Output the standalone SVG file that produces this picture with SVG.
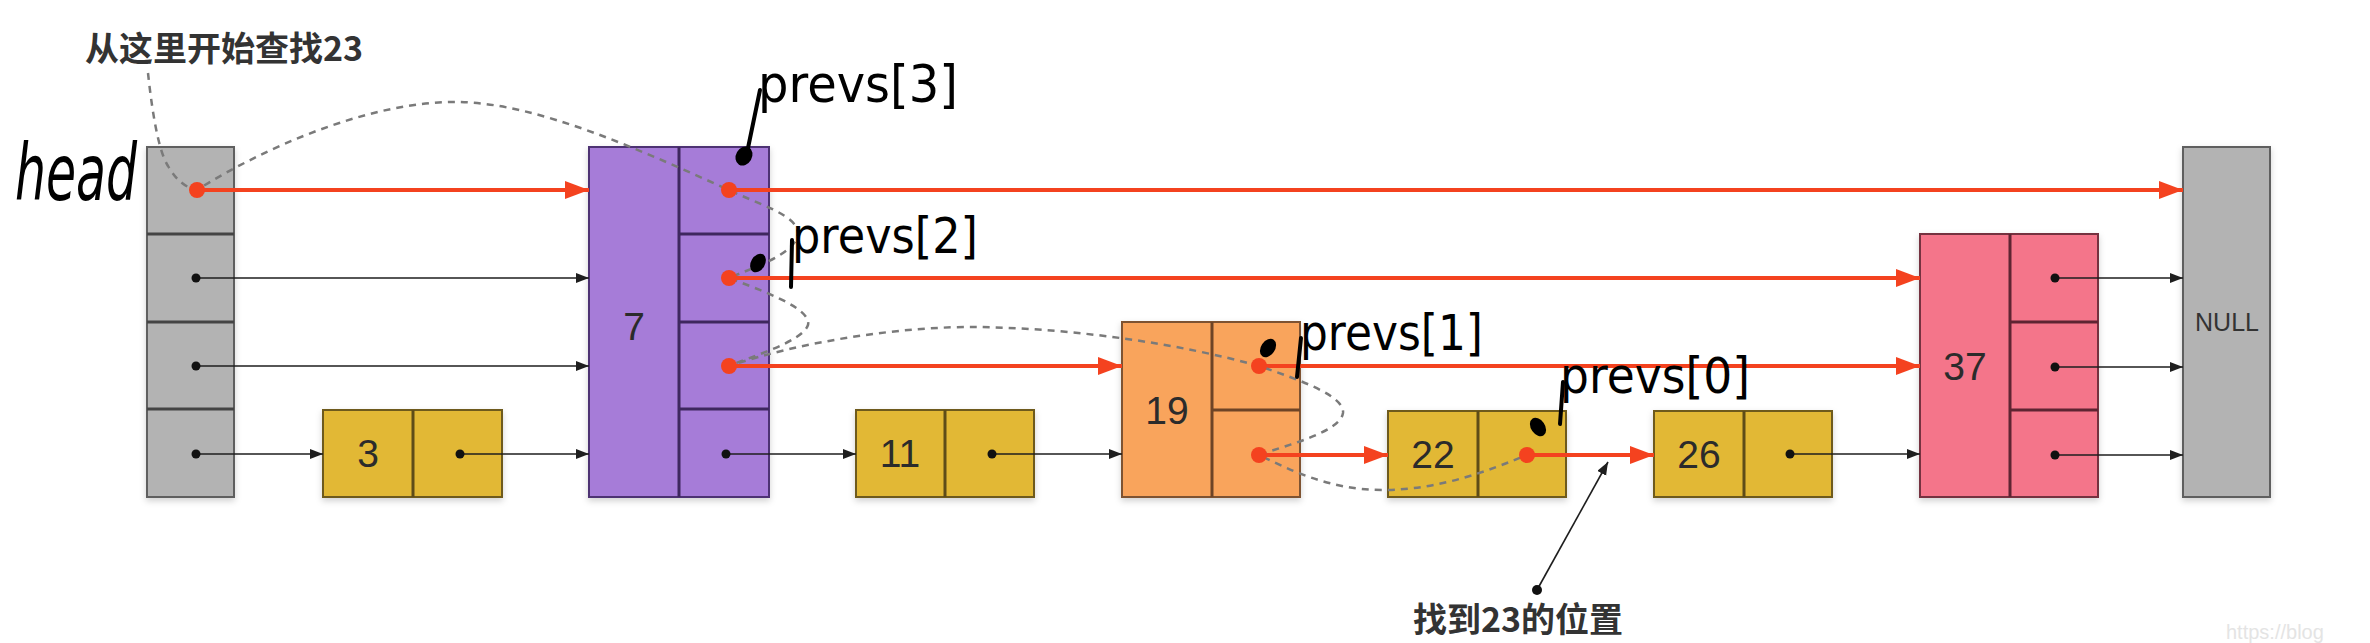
<svg xmlns="http://www.w3.org/2000/svg" width="2370" height="643" viewBox="0 0 2370 643">
<style>
.gray{fill:#b3b3b3;stroke:#5e5e5e;stroke-width:2}
.purple{fill:#a67bd8;stroke:#4e3373;stroke-width:2}
.yellow{fill:#e2b834;stroke:#6e5a1e;stroke-width:2}
.orange{fill:#f9a45c;stroke:#7e5230;stroke-width:2}
.pink{fill:#f4748a;stroke:#74303f;stroke-width:2}
.div{stroke-width:3;fill:none}
.num{font-family:"Liberation Sans",Arial,sans-serif;font-size:39px;fill:#2b2b2b;text-anchor:middle}
.cn{font-family:"Noto Sans CJK SC","Liberation Sans",sans-serif;font-size:34px;font-weight:700;fill:#333}
.hand{font-family:"DejaVu Sans",sans-serif;fill:#000}
.red{stroke:#f4421f;stroke-width:4;fill:none;marker-end:url(#ra)}
.blk{stroke:#1e1e1e;stroke-width:1.6;fill:none;marker-end:url(#ba)}
.rdot{fill:#f4421f}
.bdot{fill:#111}
.dash{stroke:#7a7a7a;stroke-width:2.5;fill:none;stroke-dasharray:7 6}
.pen{stroke:#000;stroke-width:4;stroke-linecap:round;fill:none}
</style>
<defs>
<marker id="ra" markerUnits="userSpaceOnUse" markerWidth="26" markerHeight="20" refX="24" refY="9" orient="auto"><path d="M0,0 L24,9 L0,18 z" fill="#f4421f"/></marker>
<marker id="ba" markerUnits="userSpaceOnUse" markerWidth="15" markerHeight="12" refX="13" refY="5" orient="auto"><path d="M0,0 L13,5 L0,10 z" fill="#1e1e1e"/></marker>
<filter id="sh" x="-10%" y="-10%" width="120%" height="130%"><feDropShadow dx="0" dy="3" stdDeviation="3" flood-color="#000" flood-opacity="0.18"/></filter>
</defs>
<rect width="2370" height="643" fill="#fff"/>

<g id="head">
<rect class="gray" x="147" y="147" width="87" height="350" filter="url(#sh)"/>
<path class="div" stroke="#444" d="M147 234H234M147 322H234M147 409H234"/>
</g>
<g id="node3">
<rect class="yellow" x="323" y="410" width="179" height="87" filter="url(#sh)"/>
<path class="div" stroke="#5e4c18" stroke-width="1.5" d="M413 410V497"/>
<text class="num" x="368" y="467">3</text>
</g>
<g id="node7">
<rect class="purple" x="589" y="147" width="180" height="350" filter="url(#sh)"/>
<path class="div" stroke="#3e275e" d="M679 147V497M679 234H769M679 322H769M679 409H769"/>
<text class="num" x="634" y="340">7</text>
</g>
<g id="node11">
<rect class="yellow" x="856" y="410" width="178" height="87" filter="url(#sh)"/>
<path class="div" stroke="#5e4c18" d="M945 410V497"/>
<text class="num" x="900" y="467">11</text>
</g>
<g id="node19">
<rect class="orange" x="1122" y="322" width="178" height="175" filter="url(#sh)"/>
<path class="div" stroke="#6e4426" d="M1212 322V497M1212 410H1300"/>
<text class="num" x="1167" y="424">19</text>
</g>
<g id="node22">
<rect class="yellow" x="1388" y="411" width="178" height="86" filter="url(#sh)"/>
<path class="div" stroke="#5e4c18" d="M1478 411V497"/>
<text class="num" x="1433" y="468">22</text>
</g>
<g id="node26">
<rect class="yellow" x="1654" y="411" width="178" height="86" filter="url(#sh)"/>
<path class="div" stroke="#5e4c18" d="M1744 411V497"/>
<text class="num" x="1699" y="468">26</text>
</g>
<g id="node37">
<rect class="pink" x="1920" y="234" width="178" height="263" filter="url(#sh)"/>
<path class="div" stroke="#5e2432" d="M2010 234V497M2010 322H2098M2010 410H2098"/>
<text class="num" x="1965" y="380">37</text>
</g>
<g id="null">
<rect class="gray" x="2183" y="147" width="87" height="350" filter="url(#sh)"/>
<text x="2227" y="331" font-family="Liberation Sans,Arial,sans-serif" font-size="25" fill="#333" text-anchor="middle">NULL</text>
</g>

<g id="connectors">
<line class="red" x1="197" y1="190" x2="589" y2="190"/>
<line class="red" x1="729" y1="190" x2="2183" y2="190"/>
<line class="red" x1="729" y1="278" x2="1920" y2="278"/>
<line class="red" x1="729" y1="366" x2="1122" y2="366"/>
<line class="red" x1="1259" y1="366" x2="1920" y2="366"/>
<line class="red" x1="1259" y1="455" x2="1388" y2="455"/>
<line class="red" x1="1527" y1="455" x2="1654" y2="455"/>

<line class="blk" x1="196" y1="278" x2="589" y2="278"/>
<line class="blk" x1="196" y1="366" x2="589" y2="366"/>
<line class="blk" x1="196" y1="454" x2="323" y2="454"/>
<line class="blk" x1="460" y1="454" x2="589" y2="454"/>
<line class="blk" x1="726" y1="454" x2="856" y2="454"/>
<line class="blk" x1="992" y1="454" x2="1122" y2="454"/>
<line class="blk" x1="1790" y1="454" x2="1920" y2="454"/>
<line class="blk" x1="2055" y1="278" x2="2183" y2="278"/>
<line class="blk" x1="2055" y1="367" x2="2183" y2="367"/>
<line class="blk" x1="2055" y1="455" x2="2183" y2="455"/>
<line class="blk" x1="1537" y1="590" x2="1608" y2="462"/>

<path class="dash" d="M148 73 C152 110 158 150 168 166 C176 180 186 188 197 190 C260 150 370 100 460 102 C540 104 640 150 729 190 C760 205 798 215 798 234 C796 254 752 268 729 278 C760 290 812 308 808 325 C802 342 752 356 729 366 C800 342 900 326 980 327 C1080 329 1180 344 1259 366 C1300 380 1345 396 1343 413 C1340 432 1290 444 1259 455 C1290 470 1330 490 1383 490 C1440 490 1490 470 1527 455"/>

<circle class="rdot" cx="197" cy="190" r="8"/>
<circle class="rdot" cx="729" cy="190" r="8"/>
<circle class="rdot" cx="729" cy="278" r="8"/>
<circle class="rdot" cx="729" cy="366" r="8"/>
<circle class="rdot" cx="1259" cy="366" r="8"/>
<circle class="rdot" cx="1259" cy="455" r="8"/>
<circle class="rdot" cx="1527" cy="455" r="8"/>

<circle class="bdot" cx="196" cy="278" r="4.5"/>
<circle class="bdot" cx="196" cy="366" r="4.5"/>
<circle class="bdot" cx="196" cy="454" r="4.5"/>
<circle class="bdot" cx="460" cy="454" r="4.5"/>
<circle class="bdot" cx="726" cy="454" r="4.5"/>
<circle class="bdot" cx="992" cy="454" r="4.5"/>
<circle class="bdot" cx="1790" cy="454" r="4.5"/>
<circle class="bdot" cx="2055" cy="278" r="4.5"/>
<circle class="bdot" cx="2055" cy="367" r="4.5"/>
<circle class="bdot" cx="2055" cy="455" r="4.5"/>
<circle class="bdot" cx="1537" cy="590" r="5"/>
</g>

<g id="labels">
<text class="cn" x="85" y="61">从这里开始查找23</text>
<text class="cn" x="1413" y="632">找到23的位置</text>
<text x="2226" y="639" font-family="Liberation Sans,Arial,sans-serif" font-size="20" fill="#e4e4e4">https://blog</text>

<text class="hand" x="15" y="200" font-size="78" font-style="italic" textLength="122" lengthAdjust="spacingAndGlyphs">head</text>

<text class="hand" x="758" y="102" font-size="52" textLength="200" lengthAdjust="spacingAndGlyphs">prevs[3]</text>
<path class="pen" d="M760 90 L748 148"/>
<ellipse cx="744" cy="156" rx="8" ry="10" transform="rotate(30 744 156)"/>

<text class="hand" x="792" y="253" font-size="50" textLength="186" lengthAdjust="spacingAndGlyphs">prevs[2]</text>
<path class="pen" d="M792 240 L791 287"/>
<ellipse cx="758" cy="263" rx="7" ry="10" transform="rotate(30 758 263)"/>

<text class="hand" x="1300" y="350" font-size="50" textLength="183" lengthAdjust="spacingAndGlyphs">prevs[1]</text>
<path class="pen" d="M1301 338 L1297 377"/>
<ellipse cx="1268" cy="348" rx="7" ry="10" transform="rotate(35 1268 348)"/>

<text class="hand" x="1560" y="393" font-size="50" textLength="190" lengthAdjust="spacingAndGlyphs">prevs[0]</text>
<path class="pen" d="M1563 382 L1560 424"/>
<ellipse cx="1538" cy="427" rx="7" ry="10" transform="rotate(-35 1538 427)"/>
</g>
</svg>
